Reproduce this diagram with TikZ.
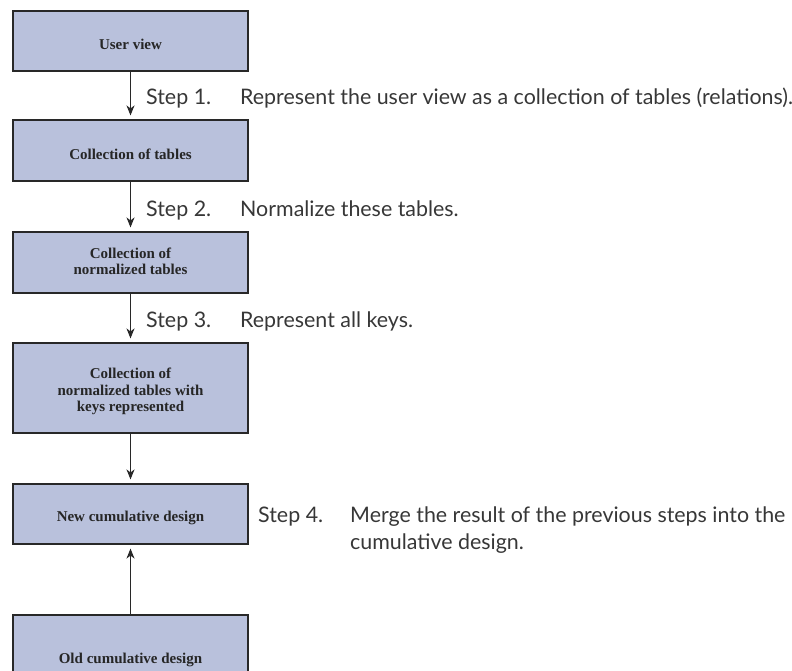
\documentclass[tikz,border=0pt]{standalone}
\usepackage{fontspec}
\setmainfont{Liberation Serif}
\newfontfamily\stepfont{Lato}
\usetikzlibrary{arrows.meta}
\definecolor{boxfill}{RGB}{185,193,220}
\definecolor{edgec}{RGB}{40,40,40}
\definecolor{txtc}{RGB}{55,55,55}
\begin{document}
\begin{tikzpicture}[x=1pt,y=-1pt,
  box/.style={draw=edgec, line width=1.1pt, fill=boxfill, minimum width=235pt, inner sep=0pt},
  boxtext/.style={font=\fontsize{15}{16.3}\selectfont\bfseries, text=black!85, align=center, inner sep=0pt},
  steplbl/.style={font=\stepfont\fontsize{21.4}{21}\selectfont, text=txtc, anchor=base west, inner sep=0pt},
  arr/.style={draw=edgec, line width=1pt, -{Stealth[length=10pt,width=8pt,inset=3pt]}, shorten >=4pt}]
\useasboundingbox (0,0) rectangle (792,671);
% boxes
\node[box, minimum height=60pt] (b1) at (130.5,41) {};
\node[box, minimum height=61pt] (b2) at (130.5,150.5) {};
\node[box, minimum height=61pt] (b3) at (130.5,262.5) {};
\node[box, minimum height=90pt] (b4) at (130.5,388) {};
\node[box, minimum height=60pt] (b5) at (130.5,514) {};
\node[box, minimum height=90pt] (b6) at (130.5,660) {};
% box texts
\node[boxtext] (t1) at ([yshift=-3.5pt]b1.center) {User view};
\node[boxtext] (t2) at ([yshift=-3.5pt]b2.center) {Collection of tables};
\node[boxtext] (t3) at ([yshift=1.3pt]b3.center) {Collection of\\normalized tables};
\node[boxtext] (t4) at ([yshift=-3.5pt]b4.center) {Collection of\\normalized tables with\\keys represented};
\node[boxtext] (t5) at ([yshift=-3.5pt]b5.center) {New cumulative design};
\node[boxtext] (t6) at (b6.center) {Old cumulative design};
% connectors
\draw[arr] (b1.south) -- (b2.north);
\draw[arr] (b2.south) -- (b3.north);
\draw[arr] (b3.south) -- (b4.north);
\draw[arr] (b4.south) -- (b5.north);
\draw[arr] (b6.north) -- (b5.south);
% step labels
\node[steplbl] (s1) at (146,105) {Step 1.};
\node[steplbl] (d1) at (240,105) {Represent the user view as a collection of tables (relations).};
\node[steplbl] (s2) at (146,216) {Step 2.};
\node[steplbl] (d2) at (240,216) {Normalize these tables.};
\node[steplbl] (s3) at (146,327) {Step 3.};
\node[steplbl] (d3) at (240,327) {Represent all keys.};
\node[steplbl] (s4) at (258,522) {Step 4.};
\node[steplbl] (d4a) at (350,522) {Merge the result of the previous steps into the};
\node[steplbl] (d4b) at (350,549) {cumulative design.};
\end{tikzpicture}
\end{document}
